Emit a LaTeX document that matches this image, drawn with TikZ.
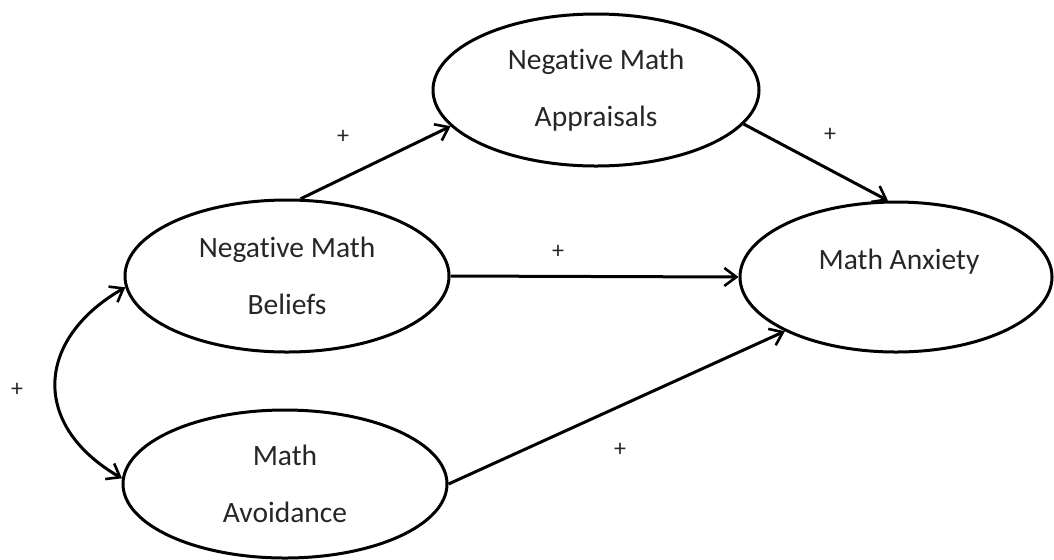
\documentclass[tikz,border=0pt]{standalone}
\usepackage{fontspec}
\setmainfont{Carlito}[Ligatures=NoCommon]
\usetikzlibrary{shapes.geometric,arrows.meta}
\begin{document}
\begin{tikzpicture}[x=0.5pt,y=-0.5pt,
  latent/.style={ellipse,draw=black,line width=1.5pt,inner sep=0pt,
    font={\fontsize{14.75}{28.5}\selectfont},text=black!85,align=center},
  path/.style={line width=1.5pt,-{Straight Barb[length=6pt,width=9pt,line width=1.3pt]}},
  sign/.style={font={\fontsize{12}{14}\selectfont},text=black!85,inner sep=0pt}]
\useasboundingbox (0,0) rectangle (1054,559);
\node[latent,minimum width=163pt,minimum height=76pt] (A) at (596,90) {Negative Math\\Appraisals};
\node[latent,minimum width=162pt,minimum height=76pt] (B) at (287,276) {Negative Math\\Beliefs};
\node[latent,minimum width=156pt,minimum height=75pt] (X) at (896,277) {};
\node[font={\fontsize{14.75}{18}\selectfont},text=black!85,inner sep=0pt] (XT) at (899,262) {Math Anxiety};
\node[latent,minimum width=162pt,minimum height=74pt] (V) at (285,484) {Math\\Avoidance};

\draw[path] (B.80) -- (A.194);
\draw[path] (A.-13) -- (X.96);
\draw[path] (B.east) -- (X.west);
\draw[path] (V.east) -- (X.206);
\draw[line width=1.5pt,{Straight Barb[length=6pt,width=9pt,line width=1.3pt]}-{Straight Barb[length=6pt,width=9pt,line width=1.3pt]}]
  (B.184) to[out=210,in=150,looseness=1.4] (V.178);

\node[sign] (s1) at (343,137) {+};
\node[sign] (s2) at (830,135) {+};
\node[sign] (s3) at (558,252) {+};
\node[sign] (s4) at (17,390) {+};
\node[sign] (s5) at (620,450) {+};
\end{tikzpicture}
\end{document}
